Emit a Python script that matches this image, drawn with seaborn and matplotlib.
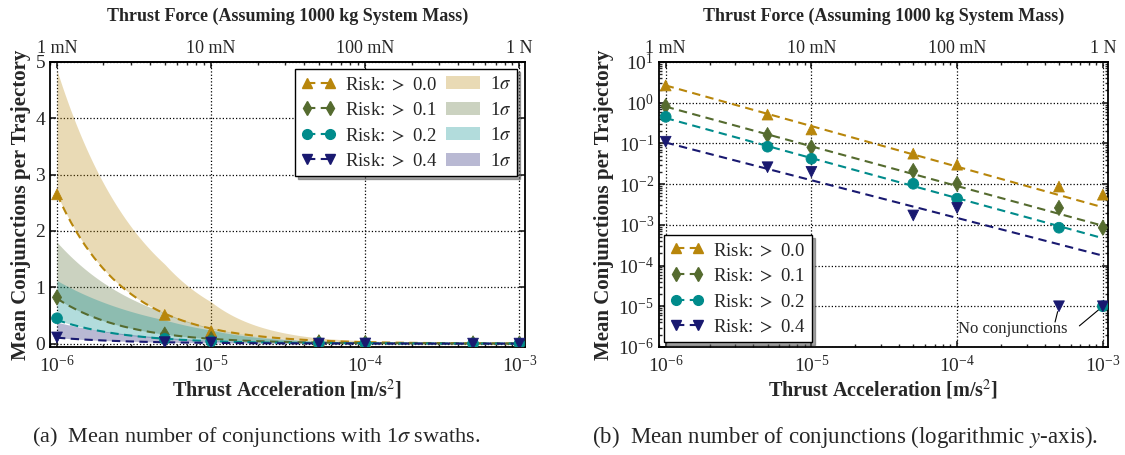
import numpy as np
import pandas as pd
import matplotlib
matplotlib.use('Agg')
import matplotlib.pyplot as plt
import seaborn as sns
from matplotlib.lines import Line2D
from matplotlib.patches import Patch

# thrust acceleration [m/s^2]
accel = [1e-6, 5e-6, 1e-5, 5e-5, 1e-4, 5e-4, 1e-3]
risk_names = ['Risk: $>$ 0.0', 'Risk: $>$ 0.1', 'Risk: $>$ 0.2', 'Risk: $>$ 0.4']
colors = ['#b8860b', '#556b2f', '#008b8b', '#191970']
markers = ['^', 'd', 'o', 'v']

# mean conjunctions per trajectory (1e-5 = no conjunctions)
mean_00 = [2.65, 0.51, 0.22, 0.056, 0.030, 0.0087, 0.0055]
mean_01 = [0.82, 0.16, 0.080, 0.021, 0.0102, 0.0026, 0.00085]
mean_02 = [0.45, 0.083, 0.042, 0.0102, 0.0044, 0.00085, 1e-5]
mean_04 = [0.11, 0.026, 0.020, 0.0017, 0.0026, 1e-5, 1e-5]

# power-law fit lines, value at 1e-6 and at 1e-3
fit_start = [2.65, 0.80, 0.42, 0.105]
fit_end = [0.0027, 0.00095, 0.00047, 0.000175]

# upper edge of the 1 sigma swath
upper_00 = [4.85, 1.41, 0.74, 0.10, 0.05, 0.010, 0.005]
upper_01 = [1.80, 0.55, 0.28, 0.05, 0.025, 0.005, 0.0025]
upper_02 = [1.12, 0.42, 0.24, 0.04, 0.02, 0.004, 0.002]
upper_04 = [0.38, 0.11, 0.06, 0.012, 0.006, 0.0012, 0.0006]

force_ticks = [1e-6, 1e-5, 1e-4, 1e-3]
force_labels = ['1 mN', '10 mN', '100 mN', '1 N']

means = [mean_00, mean_01, mean_02, mean_04]
uppers = [upper_00, upper_01, upper_02, upper_04]

x = np.array(accel)
grid = np.logspace(-6, -3, 300)


def power_law(y0, y1):
    b = np.log10(y1 / y0) / 3.0
    return lambda g: y0 * (np.asarray(g) / 1e-6) ** b


def loglog_edge(xv, yv):
    # straight segments between the read values in log-log space
    return lambda g: 10 ** np.interp(np.log10(g), np.log10(xv), np.log10(yv))


df = pd.DataFrame({
    'accel': np.tile(x, 4),
    'mean': np.concatenate(means),
    'risk': np.repeat(risk_names, len(x)),
})

sns.set_theme(style='ticks')
plt.rcParams['font.family'] = ['Liberation Serif', 'DejaVu Serif']
plt.rcParams['mathtext.fontset'] = 'stix'
plt.rcParams['axes.linewidth'] = 1.3

fig = plt.figure(figsize=(11.25, 4.55), dpi=100)
ax1 = fig.add_axes([0.0444, 0.2374, 0.4222, 0.6264])
ax2 = fig.add_axes([0.5858, 0.2374, 0.3991, 0.6264])

fits = [power_law(s, e) for s, e in zip(fit_start, fit_end)]

# bands on the linear plot
for i in range(4):
    up = loglog_edge(x, uppers[i])
    ax1.fill_between(grid, fits[i](grid), up(grid), color=colors[i], alpha=0.3, lw=0, zorder=1)

for ax in (ax1, ax2):
    for i in range(4):
        sns.lineplot(x=grid, y=fits[i](grid), color=colors[i], ax=ax, lw=1.5,
                     linestyle=(0, (4, 2.6)), zorder=3)
    sns.scatterplot(data=df, x='accel', y='mean', hue='risk', style='risk',
                    palette=dict(zip(risk_names, colors)),
                    markers=dict(zip(risk_names, markers)),
                    s=60, edgecolor='face', linewidth=0.6, legend=False, ax=ax, zorder=4)
    ax.set_xscale('log')
    ax.set_xlim(0.9e-6, 1.085e-3)
    ax.set_xticks(force_ticks)
    ax.grid(True, which='major', linestyle=':', color='black', linewidth=0.9)
    ax.tick_params(which='both', direction='in', right=True, top=False, labelsize=14)
    ax.tick_params(axis='x', which='major', pad=6)
    ax.tick_params(which='major', length=4)
    ax.tick_params(which='minor', length=2.5)
    ax.set_xlabel('Thrust Acceleration [m/s$^2$]', fontsize=14.5, fontweight='bold', labelpad=1)
    ax.set_ylabel('Mean Conjunctions per Trajectory', fontsize=15, fontweight='bold', labelpad=3)
    sec = ax.secondary_xaxis('top')
    sec.set_xticks(force_ticks, labels=force_labels)
    sec.tick_params(which='both', direction='in', labelsize=13)
    sec.tick_params(which='major', length=4)
    sec.tick_params(which='minor', length=2.5)
    sec.set_xlabel('Thrust Force (Assuming 1000 kg System Mass)', fontsize=13,
                   fontweight='bold', labelpad=14)
    for s in ax.spines.values():
        s.set_color('black')

ax1.set_ylim(-0.06, 5.0)
ax1.set_yticks([0, 1, 2, 3, 4, 5])

ax2.set_yscale('log')
ax2.set_ylim(1e-6, 1e1)
ax2.set_yticks([1e-6, 1e-5, 1e-4, 1e-3, 1e-2, 1e-1, 1e0, 1e1])

line_handles = [Line2D([], [], color=c, marker=mk, linestyle=(0, (4, 2.6)), lw=1.5, markersize=7)
                for c, mk in zip(colors, markers)]
patch_handles = [Patch(facecolor=c, alpha=0.3, edgecolor='none') for c in colors]

leg1 = ax1.legend(line_handles + patch_handles, risk_names + ['1$\\sigma$'] * 4, ncol=2,
                  loc='upper right', fontsize=13.5, numpoints=2, handlelength=1.8,
                  handletextpad=0.5, columnspacing=0.5, fancybox=False, shadow=True,
                  framealpha=1, edgecolor='black', borderaxespad=0.4, labelspacing=0.45,
                  borderpad=0.35)
leg1.get_frame().set_linewidth(1.0)

leg2 = ax2.legend(line_handles, risk_names, loc='lower left', fontsize=13.5, numpoints=2,
                  handlelength=1.8, handletextpad=0.5, fancybox=False, shadow=True,
                  framealpha=1, edgecolor='black', borderaxespad=0.25, labelspacing=0.45,
                  borderpad=0.35)
leg2.get_frame().set_linewidth(1.0)

ax2.text(2.4e-4, 2.7e-6, 'No conjunctions', fontsize=12, ha='center', va='center')
ax2.annotate('', xy=(5e-4, 1e-5), xytext=(4.7e-4, 4.1e-6),
             arrowprops=dict(arrowstyle='-', color='black', lw=0.8, shrinkA=0, shrinkB=4))
ax2.annotate('', xy=(1e-3, 1e-5), xytext=(6.9e-4, 3.3e-6),
             arrowprops=dict(arrowstyle='-', color='black', lw=0.8, shrinkA=0, shrinkB=4))

fig.text(0.228, 0.04, '(a)  Mean number of conjunctions with 1$\\sigma$ swaths.',
         ha='center', va='center', fontsize=16)
fig.text(0.751, 0.04, '(b)  Mean number of conjunctions (logarithmic $y$-axis).',
         ha='center', va='center', fontsize=16.5)

fig.savefig('out.png', dpi=100)
